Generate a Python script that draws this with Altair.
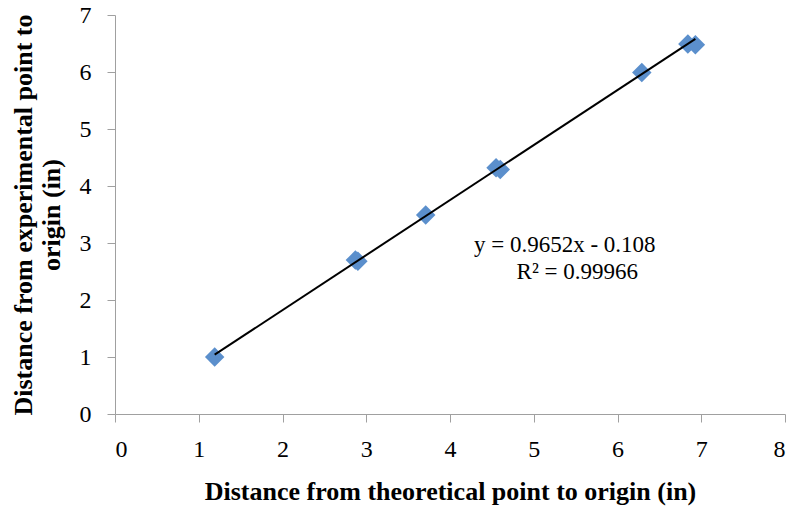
import altair as alt
import pandas as pd

# data
theoretical = [1.19, 2.87, 2.90, 3.71, 4.55, 4.60, 6.29, 6.84, 6.93]
experimental = [1.00, 2.70, 2.68, 3.49, 4.32, 4.29, 5.99, 6.49, 6.48]
slope = 0.9652
intercept = -0.108
eq_lines = ["y = 0.9652x - 0.108", "R² = 0.99966"]
eq_x = [5.37, 5.52]
eq_y = [2.96, 2.49]

pts = pd.DataFrame({"x": theoretical, "y": experimental})
xmin, xmax = min(theoretical), max(theoretical)
fit = pd.DataFrame({"x": [xmin, xmax], "y": [slope * xmin + intercept, slope * xmax + intercept]})
lab = pd.DataFrame({"x": eq_x, "y": eq_y, "t": eq_lines})

font = "Liberation Serif"
xs = alt.Scale(domain=[0, 8], nice=False, zero=False)
ys = alt.Scale(domain=[0, 7], nice=False, zero=False)

xax = alt.Axis(title="Distance from theoretical point to origin (in)", values=list(range(0, 9)),
               format="d", grid=False, tickSize=8, labelPadding=15, titlePadding=17,
               labelFontSize=24, titleFontSize=26, labelFont=font, titleFont=font,
               titleFontWeight="bold", domainColor="#A0A0A0", tickColor="#A0A0A0",
               labelColor="black", titleColor="black")
yax = alt.Axis(title=["Distance from experimental point to", "origin (in)"], values=list(range(0, 8)),
               format="d", grid=False, tickSize=8, labelPadding=16, titlePadding=15,
               labelFontSize=24, titleFontSize=26, labelFont=font, titleFont=font,
               titleFontWeight="bold", domainColor="#A0A0A0", tickColor="#A0A0A0",
               labelColor="black", titleColor="black", titleLineHeight=28)

points = alt.Chart(pts).mark_point(shape="diamond", filled=True, size=380, color="#5B8FCC", opacity=1).encode(
    x=alt.X("x:Q", scale=xs, axis=xax),
    y=alt.Y("y:Q", scale=ys, axis=yax),
)
line = alt.Chart(fit).mark_line(color="black", strokeWidth=2).encode(
    x=alt.X("x:Q", scale=xs),
    y=alt.Y("y:Q", scale=ys),
)
text = alt.Chart(lab).mark_text(font=font, fontSize=23, color="black", align="center", baseline="middle").encode(
    x=alt.X("x:Q", scale=xs),
    y=alt.Y("y:Q", scale=ys),
    text="t:N",
)

chart = (points + line + text).properties(
    width=670, height=399,
    autosize=alt.AutoSizeParams(type="none"),
    padding={"left": 107, "top": 7, "right": 2, "bottom": 95},
).configure_view(stroke=None)

chart.save("out.html", embed_options={"renderer": "svg", "actions": False})
